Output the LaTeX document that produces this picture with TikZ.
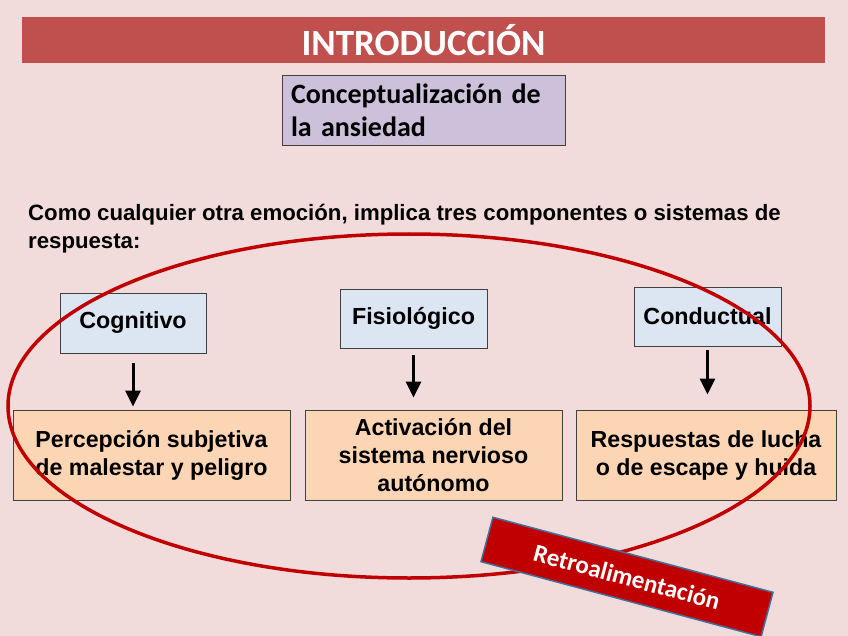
\documentclass[tikz,border=0pt]{standalone}
\usepackage{fontspec}
\setmainfont{Liberation Sans}
\newfontfamily\calibri{Carlito}
\usetikzlibrary{arrows.meta}

\definecolor{fondo}{HTML}{F2DCDB}
\definecolor{rojotit}{HTML}{C0504D}
\definecolor{lila}{HTML}{CCC0DA}
\definecolor{azulcaja}{HTML}{DCE6F2}
\definecolor{naranja}{HTML}{FCD5B5}
\definecolor{rojo}{HTML}{C00000}
\definecolor{bordeazul}{HTML}{41719C}

\tikzset{
  caja/.style={draw=black!75, line width=0.9pt},
  sistema/.style={caja, fill=azulcaja, minimum width=147pt, minimum height=59pt,
    font=\bfseries\fontsize{23.3}{28}\selectfont},
  respuesta/.style={caja, fill=naranja, minimum height=90pt, align=center,
    font=\bfseries\fontsize{23.2}{28}\selectfont},
  flecha/.style={line width=3pt, -{Triangle[width=15pt,length=16pt]}},
}

\begin{document}
\begin{tikzpicture}[x=1pt, y=-1pt] % 1 unidad = 1 pixel de la imagen (848 x 636)
  \useasboundingbox[fill=fondo] (0,0) rectangle (848,636);

  % Título
  \node[fill=rojotit, text=white, minimum width=803pt, minimum height=46pt,
    font=\calibri\bfseries\fontsize{37}{40}\selectfont] (titulo) at (423.5,40) {INTRODUCCIÓN};

  % Concepto
  \node[caja, fill=lila, text width=265pt, inner xsep=9pt, minimum height=70pt, align=left,
    font=\calibri\bfseries\fontsize{28}{33}\selectfont] (concepto) at (423.5,110)
    {Conceptualización de\\la ansiedad};

  % Texto de introducción
  \node[anchor=west, inner sep=0pt, align=left, font=\bfseries\fontsize{22.2}{28}\selectfont]
    (intro) at (28,229) {Como cualquier otra emoción, implica tres componentes o sistemas de\\respuesta:};

  % Sistemas
  \node[sistema, minimum width=146pt, minimum height=60pt] (cog) at (133,323) {Cognitivo};
  \node[sistema] (fis) at (413.5,318.5) {Fisiológico};
  \node[sistema] (con) at (707.5,316.5) {Conductual};

  % Respuestas
  \node[respuesta, minimum width=277pt] (perc) at (151.5,455) {Percepción subjetiva\\de malestar y peligro};
  \node[respuesta, minimum width=257pt] (act) at (433.5,455) {Activación del\\sistema nervioso\\autónomo};
  \node[respuesta, minimum width=260pt] (resp) at (706,455) {Respuestas de lucha\\o de escape y huida};

  % Flechas
  \draw[flecha] ([yshift=-10pt]cog.south) -- ([yshift=3pt]cog.south |- perc.north);
  \draw[flecha] ([yshift=-7pt]fis.south) -- ([yshift=12pt]fis.south |- act.north);
  \draw[flecha] ([yshift=-4pt]con.south) -- ([yshift=15pt]con.south |- resp.north);

  % Óvalo
  \draw[rojo, line width=3.5pt] (409,406) ellipse [x radius=401, y radius=172];

  % Retroalimentación
  \node[fill=rojo, draw=bordeazul, line width=1.5pt, text=white, rotate=-15,
    minimum width=290pt, minimum height=46pt,
    font=\calibri\bfseries\fontsize{25}{28}\selectfont] (retro) at (627,577) {Retroalimentación};
\end{tikzpicture}
\end{document}
